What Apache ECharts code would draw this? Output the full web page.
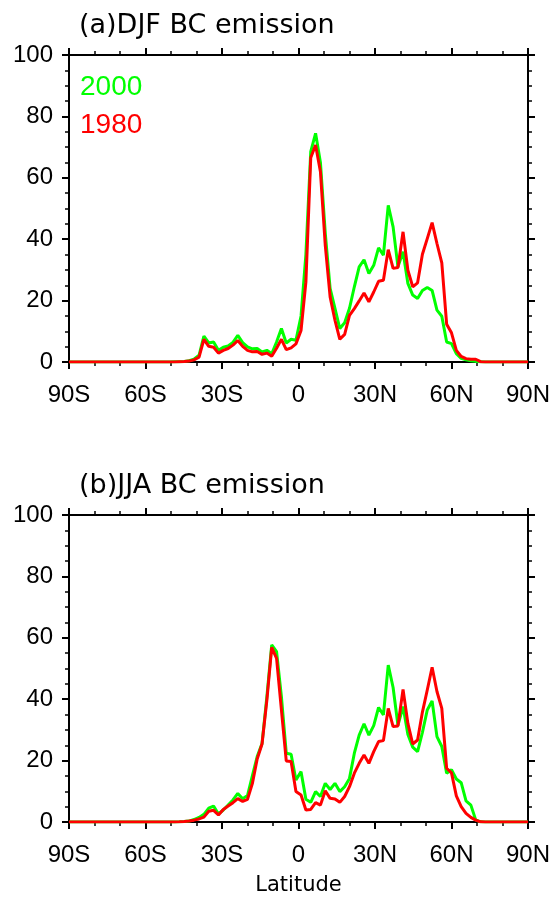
<!DOCTYPE html>
<html>
<head>
<meta charset="utf-8">
<script src="https://cdn.jsdelivr.net/npm/echarts@6/dist/echarts.min.js"></script>
<style>
html,body{margin:0;padding:0;background:#fff;}
#c{width:553px;height:899px;}
</style>
</head>
<body>
<div id="c"></div>
<script>
// Latitudes (Gaussian-grid like, degrees; negative = south)
const lats = [-90,
  -88.5, -86.7, -84.8, -82.9, -80.9, -79.0, -77.1, -75.2, -73.3, -71.4, -69.5,
  -67.6, -65.7, -63.8, -61.9, -60.0, -58.1, -56.2, -54.3, -52.4, -50.5,
  -48.6, -46.7, -44.8, -42.9, -41.0, -39.0, -37.1, -35.2, -33.3, -31.4, -29.5,
  -27.6, -25.7, -23.8, -21.9, -20.0, -18.1, -16.2, -14.3, -12.4, -10.5, -8.6,
  -6.7, -4.8, -2.9, -1.0,
  1.0, 2.9, 4.8, 6.7, 8.6, 10.5, 12.4, 14.3, 16.2, 18.1, 20.0, 21.9, 23.8,
  25.7, 27.6, 29.5, 31.4, 33.3, 35.2, 37.1, 39.0, 41.0, 42.9, 44.8, 46.7, 48.6,
  50.5, 52.4, 54.3, 56.2, 58.1, 60.0, 61.9, 63.8, 65.7, 67.6, 69.5, 71.4,
  73.3, 75.2, 77.1, 79.0, 80.9, 82.9, 84.8, 86.7, 88.5, 90];

// (a) DJF BC emission
const djf2000 = [0,
  0, 0, 0, 0, 0, 0, 0, 0, 0, 0, 0,
  0, 0, 0, 0, 0, 0, 0, 0, 0, 0,
  0.05, 0.1, 0.2, 0.4, 0.9, 2.2, 8.4, 6.2, 6.5, 3.8, 4.8,
  5.2, 6.4, 8.7, 6.3, 4.9, 4.3, 4.4, 3.3, 3.8, 2.7, 6.5,
  10.9, 6.2, 7.4, 7.1,
  15, 35, 68.5, 74.5, 65, 42, 24, 17.5, 10.9, 12.8, 17.5, 24.5, 31,
  33.3, 28.8, 31.5, 37.2, 34.8, 51, 44, 31, 35.9, 25.6, 21.8, 20.7, 23.3,
  24.3, 23.3, 16.9, 14.9, 6.5, 6.0, 2.7, 1.2, 0.7, 0.4, 0.2, 0.1,
  0, 0, 0, 0, 0, 0, 0, 0, 0, 0];
const djf1980 = [0,
  0, 0, 0, 0, 0, 0, 0, 0, 0, 0, 0,
  0, 0, 0, 0, 0, 0, 0, 0, 0, 0,
  0.03, 0.1, 0.15, 0.3, 0.7, 1.6, 7.4, 5.1, 4.8, 2.9, 3.8,
  4.4, 5.5, 7.0, 5.1, 3.8, 3.3, 3.4, 2.5, 2.9, 1.9, 4.5,
  7.4, 4.0, 4.6, 5.9,
  10.3, 26, 66.5, 70.7, 62, 38, 21.2, 13.6, 7.4, 9.0, 15.2, 17.4, 19.9,
  22.5, 19.6, 22.8, 26.3, 26.6, 36.6, 30.5, 30.8, 42.4, 29.9, 24.5, 25.8, 35.1,
  40.2, 45.4, 38.6, 32.3, 12.3, 9.5, 3.8, 1.8, 1.1, 0.9, 0.9, 0.1,
  0, 0, 0, 0, 0, 0, 0, 0, 0, 0];

// (b) JJA BC emission
const jja2000 = [0,
  0, 0, 0, 0, 0, 0, 0, 0, 0, 0, 0,
  0, 0, 0, 0, 0, 0, 0, 0, 0, 0,
  0.03, 0.08, 0.15, 0.3, 0.8, 1.5, 2.5, 4.5, 5.2, 2.6, 3.9,
  5.5, 7.2, 9.3, 7.6, 8.6, 15, 21.3, 25.6, 40.8, 57.7, 55.5,
  40.8, 22.4, 22.1, 13.7,
  16.4, 7.4, 6.4, 9.9, 8.3, 12.6, 10.6, 12.6, 9.9, 11.5, 14.2, 22.4, 28.3,
  32.0, 28.3, 31.4, 37.3, 34.9, 51.1, 43.8, 31.5, 37.6, 28.5, 24.4, 22.9, 29.2,
  36.5, 39.4, 27.8, 24.6, 15.9, 17.0, 14.0, 12.8, 6.9, 5.5, 0.7, 0.05,
  0, 0, 0, 0, 0, 0, 0, 0, 0, 0];
const jja1980 = [0,
  0, 0, 0, 0, 0, 0, 0, 0, 0, 0, 0,
  0, 0, 0, 0, 0, 0, 0, 0, 0, 0,
  0.03, 0.08, 0.15, 0.3, 0.6, 1.0, 1.6, 3.5, 3.8, 2.3, 4.1,
  5.2, 6.3, 7.6, 6.7, 7.4, 12.5, 20.5, 25.4, 39.7, 56.9, 53.3,
  36.5, 19.9, 19.7, 9.9,
  8.8, 3.9, 4.1, 6.3, 5.5, 10.2, 7.7, 7.5, 6.4, 8.3, 11.5, 15.9, 19.1,
  21.8, 19.1, 22.9, 26.2, 26.5, 37.0, 31.1, 31.3, 43.2, 32.1, 25.4, 26.7, 35.8,
  43.0, 50.4, 42.5, 37.0, 17.5, 16.0, 8.5, 5.0, 2.8, 1.5, 0.6, 0.05,
  0, 0, 0, 0, 0, 0, 0, 0, 0, 0];

const titles = ['(a)DJF BC emission', '(b)JJA BC emission'];
const seriesNames = ['2000', '1980'];
const xTicks = [-90, -60, -30, 0, 30, 60, 90];
const yTicks = [0, 20, 40, 60, 80, 100];

const GREEN = '#00ff00', RED = '#ff0000';
const tickFont = 'Liberation Sans, Arial, Helvetica, sans-serif';
const titleFont = 'DejaVu Sans, sans-serif';

function latLabel(v) {
  if (v === 0) return '0';
  return Math.abs(v) + (v < 0 ? 'S' : 'N');
}
function pairs(vals) { return lats.map((la, i) => [la, vals[i]]); }

const grids = [
  {left: 69, top: 55, width: 460, height: 307},
  {left: 69, top: 515, width: 460, height: 307}
];

const xAxes = [], yAxes = [];
grids.forEach((g, gi) => {
  const common = {
    type: 'value', min: xTicks[0], max: xTicks[xTicks.length - 1], interval: 30,
    gridIndex: gi,
    axisLine: {show: true, onZero: false, lineStyle: {color: '#000', width: 2}},
    axisTick: {show: true, inside: false, length: 7, lineStyle: {color: '#000', width: 2}},
    minorTick: {show: true, splitNumber: 3, length: 4, lineStyle: {color: '#000', width: 1.5}},
    splitLine: {show: false}
  };
  xAxes.push(Object.assign({}, common, {
    position: 'bottom',
    axisLabel: {show: true, formatter: latLabel, color: '#000', fontFamily: tickFont, fontSize: 24, margin: 21},
    name: gi === 1 ? 'Latitude' : '',
    nameLocation: 'middle', nameGap: 53,
    nameTextStyle: {color: '#000', fontFamily: titleFont, fontSize: 21}
  }));
  xAxes.push(Object.assign({}, common, {position: 'top', axisLabel: {show: false}}));
  const ycommon = {
    type: 'value', min: yTicks[0], max: yTicks[yTicks.length - 1], interval: 20,
    gridIndex: gi,
    axisLine: {show: true, onZero: false, lineStyle: {color: '#000', width: 2}},
    axisTick: {show: true, inside: false, length: 7, lineStyle: {color: '#000', width: 2}},
    minorTick: {show: true, splitNumber: 4, length: 4, lineStyle: {color: '#000', width: 1.5}},
    splitLine: {show: false}
  };
  yAxes.push(Object.assign({}, ycommon, {
    position: 'left',
    axisLabel: {show: true, color: '#000', fontFamily: tickFont, fontSize: 24, margin: 16}
  }));
  yAxes.push(Object.assign({}, ycommon, {position: 'right', axisLabel: {show: false}}));
});

const panelData = [[djf2000, djf1980], [jja2000, jja1980]];
const colors = [GREEN, RED];
const series = [];
panelData.forEach((pd, gi) => {
  pd.forEach((vals, si) => {
    series.push({
      type: 'line', name: seriesNames[si],
      xAxisIndex: gi * 2, yAxisIndex: gi * 2,
      data: pairs(vals),
      symbol: 'none', smooth: false,
      lineStyle: {color: colors[si], width: 3},
      itemStyle: {color: colors[si]},
      z: 3 + si
    });
  });
});

const chart = echarts.init(document.getElementById('c'), null, {renderer: 'canvas'});
chart.setOption({
  backgroundColor: '#ffffff',
  animation: false,
  title: titles.map((t, i) => ({
    text: t, left: 74, top: i === 0 ? 7 : 467,
    textStyle: {fontFamily: titleFont, fontSize: 27, fontWeight: 'normal', color: '#000'}
  })),
  legend: {
    orient: 'vertical', left: 70, top: 68, itemGap: 10,
    icon: 'none', itemWidth: 0, itemHeight: 0, selectedMode: false,
    textStyle: {fontFamily: tickFont, fontSize: 28},
    data: [
      {name: '2000', textStyle: {color: GREEN}},
      {name: '1980', textStyle: {color: RED}}
    ]
  },
  grid: grids,
  xAxis: xAxes,
  yAxis: yAxes,
  series: series
});
</script>
</body>
</html>
